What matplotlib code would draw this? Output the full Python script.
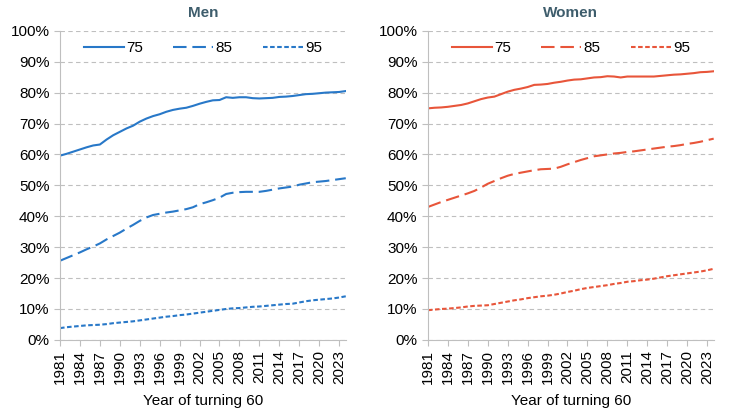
import matplotlib
matplotlib.use('Agg')
import matplotlib.pyplot as plt
import matplotlib.ticker as mtick

plt.rcParams['font.family'] = ['Liberation Sans', 'DejaVu Sans']

years = list(range(1981, 2025))

men_75 = [59.6, 60.2, 60.9, 61.6, 62.3, 62.9, 63.2, 64.8, 66.2, 67.3, 68.4, 69.3, 70.6, 71.6, 72.4,
          73.0, 73.8, 74.4, 74.8, 75.1, 75.7, 76.4, 77.0, 77.5, 77.6, 78.5, 78.3, 78.5, 78.5, 78.2,
          78.1, 78.2, 78.3, 78.6, 78.7, 78.9, 79.2, 79.5, 79.6, 79.8, 80.0, 80.1, 80.2, 80.5]
men_85 = [25.6, 26.5, 27.4, 28.3, 29.3, 30.2, 31.2, 32.5, 33.6, 34.7, 36.0, 37.2, 38.5, 39.6, 40.4,
          40.8, 41.2, 41.5, 41.9, 42.3, 42.9, 43.9, 44.5, 45.2, 46.0, 47.2, 47.6, 47.8, 47.9, 47.9,
          47.9, 48.2, 48.6, 49.0, 49.3, 49.6, 50.2, 50.6, 51.0, 51.2, 51.4, 51.7, 52.0, 52.3]
men_95 = [3.8, 4.1, 4.3, 4.5, 4.7, 4.8, 4.9, 5.1, 5.4, 5.6, 5.8, 6.0, 6.3, 6.6, 6.9,
          7.2, 7.5, 7.7, 8.0, 8.2, 8.5, 8.8, 9.1, 9.4, 9.7, 10.0, 10.2, 10.3, 10.5, 10.7,
          10.8, 11.0, 11.2, 11.4, 11.6, 11.7, 12.1, 12.5, 12.8, 13.0, 13.2, 13.4, 13.7, 14.1]

women_75 = [74.9, 75.1, 75.2, 75.4, 75.7, 76.0, 76.5, 77.2, 77.9, 78.4, 78.7, 79.5, 80.3, 80.9, 81.3,
            81.8, 82.5, 82.6, 82.8, 83.2, 83.5, 83.9, 84.2, 84.3, 84.6, 84.9, 85.0, 85.3, 85.2, 84.9,
            85.2, 85.2, 85.2, 85.2, 85.2, 85.4, 85.6, 85.8, 85.9, 86.1, 86.3, 86.6, 86.7, 86.9]
women_85 = [43.0, 43.8, 44.6, 45.3, 46.0, 46.7, 47.4, 48.2, 49.3, 50.5, 51.4, 52.3, 53.1, 53.7, 54.1,
            54.5, 54.9, 55.2, 55.3, 55.4, 56.0, 56.8, 57.5, 58.2, 58.8, 59.4, 59.7, 60.0, 60.3, 60.5,
            60.8, 61.0, 61.3, 61.6, 61.9, 62.2, 62.5, 62.7, 63.0, 63.4, 63.7, 64.1, 64.6, 65.1]
women_95 = [9.6, 9.8, 10.0, 10.1, 10.3, 10.5, 10.8, 11.0, 11.1, 11.2, 11.6, 12.0, 12.4, 12.8, 13.1,
            13.5, 13.8, 14.1, 14.3, 14.6, 15.0, 15.5, 15.9, 16.4, 16.8, 17.1, 17.4, 17.7, 18.1, 18.4,
            18.8, 19.0, 19.3, 19.5, 19.8, 20.2, 20.6, 20.9, 21.2, 21.5, 21.8, 22.1, 22.5, 23.0]

labels = ['75', '85', '95']
styles = ['-', (0, (6.5, 2.8)), (0, (2.2, 1.2))]

fig = plt.figure(figsize=(7.29, 4.16), dpi=100)
ax1 = fig.add_axes([0.0823, 0.183, 0.392, 0.743])
ax2 = fig.add_axes([0.587, 0.183, 0.392, 0.743])


def draw(ax, title, series, color):
    for vals, lab, ls in zip(series, labels, styles):
        ax.plot(years, vals, color=color, linestyle=ls, lw=1.5, label=lab)
    ax.set_xlim(years[0], years[-1])
    ax.set_ylim(0, 100)
    ax.set_xticks(years[::3])
    ax.set_xticklabels([str(y) for y in years[::3]], rotation=90)
    ax.set_yticks(range(0, 101, 10))
    ax.yaxis.set_major_formatter(mtick.FuncFormatter(lambda v, p: '%d%%' % v))
    ax.grid(axis='y', color='#BFBFBF', linestyle=(0, (4, 3)), lw=0.8)
    for s in ['top', 'right']:
        ax.spines[s].set_visible(False)
    for s in ['left', 'bottom']:
        ax.spines[s].set_color('#BFBFBF')
    ax.tick_params(axis='both', colors='#BFBFBF', labelcolor='black', labelsize=11, length=4)
    ax.set_title(title, fontsize=11, fontweight='bold', color='#3E5D6C', pad=10)
    ax.set_xlabel('Year of turning 60', fontsize=11, labelpad=7)
    ax.legend(loc='upper center', ncol=3, frameon=False, fontsize=11, handlelength=2.6,
              handletextpad=0.15, columnspacing=2.0, bbox_to_anchor=(0.5, 1.01))


draw(ax1, 'Men', [men_75, men_85, men_95], '#2878C8')
draw(ax2, 'Women', [women_75, women_85, women_95], '#E8553A')

fig.savefig('out.png', dpi=100)
